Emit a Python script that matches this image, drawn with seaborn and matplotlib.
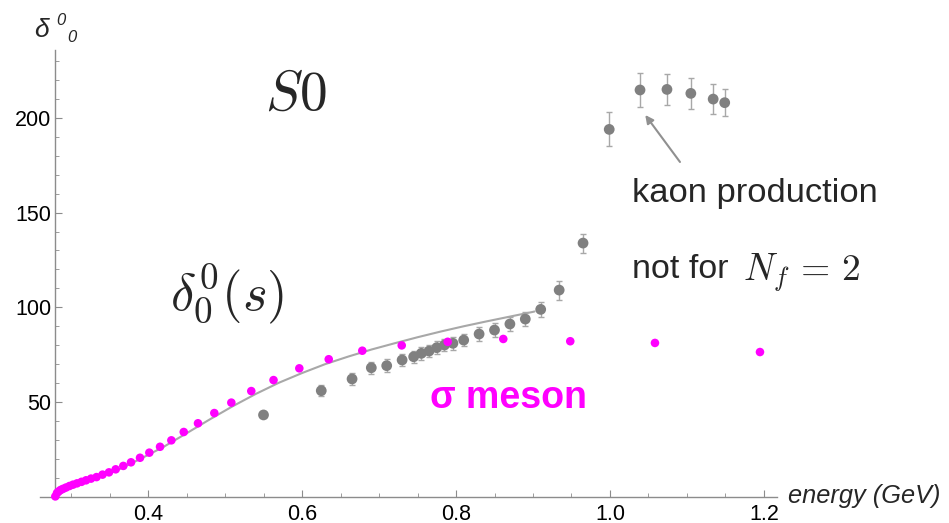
import numpy as np
import pandas as pd
import seaborn as sns
import matplotlib.pyplot as plt
from matplotlib.ticker import MultipleLocator

# Datos leidos de la figura
# puntos experimentales (gris, con barras de error)
exp_energy = [0.550, 0.625, 0.665, 0.690, 0.710, 0.730, 0.745, 0.755, 0.765, 0.775,
              0.785, 0.796, 0.810, 0.830, 0.850, 0.870, 0.890, 0.910, 0.934, 0.965,
              0.999, 1.039, 1.074, 1.105, 1.134, 1.149]
exp_delta = [43.2, 56.0, 62.2, 68.1, 69.2, 72.2, 73.9, 75.7, 76.9, 78.7,
             80.1, 81.0, 82.7, 85.9, 88.0, 91.2, 93.8, 98.9, 109.1, 133.9,
             193.9, 214.7, 215.0, 212.9, 209.9, 208.0]
exp_err = [1.0, 3.0, 3.3, 3.3, 3.3, 3.3, 3.3, 3.3, 3.3, 3.3,
           3.3, 3.3, 3.3, 3.5, 3.5, 3.5, 3.5, 4.0, 5.0, 5.0,
           9.0, 9.0, 8.0, 8.0, 8.0, 7.0]

# puntos del meson sigma (magenta)
sig_energy = [0.2796, 0.2818, 0.2838, 0.2864, 0.2896, 0.2935, 0.2980, 0.3026, 0.3078,
              0.3136, 0.3195, 0.3260, 0.3331, 0.3409, 0.3493, 0.3580, 0.3679, 0.3779,
              0.3896, 0.4017, 0.4156, 0.4303, 0.4464, 0.4649, 0.4861, 0.5082, 0.5341,
              0.5630, 0.5965, 0.6347, 0.6783, 0.7295, 0.7892, 0.8614, 0.9484, 1.0584,
              1.1948]
sig_delta = [0.2, 2.0, 2.8, 3.6, 4.2, 4.9, 5.7, 6.4, 7.1,
             7.9, 8.7, 9.6, 10.4, 11.7, 12.9, 14.5, 16.3, 18.2,
             20.6, 23.3, 26.4, 29.8, 34.2, 38.8, 44.2, 49.7, 55.8,
             61.6, 67.8, 72.6, 77.1, 79.9, 81.8, 83.3, 82.1, 81.2,
             76.4]

# curva teorica (gris claro)
fit_energy = [0.2796, 0.30, 0.33, 0.36, 0.39, 0.42, 0.45, 0.48, 0.51, 0.54, 0.57,
              0.60, 0.63, 0.66, 0.69, 0.72, 0.75, 0.78, 0.81, 0.84, 0.87, 0.90, 0.902]
fit_delta = [0.0, 5.0, 9.5, 14.0, 20.0, 26.3, 33.5, 40.8, 47.8, 54.3, 60.2,
             65.3, 70.0, 74.0, 77.7, 81.0, 84.2, 87.2, 90.0, 92.6, 95.1, 97.6, 97.8]

x_major = [0.4, 0.6, 0.8, 1.0, 1.2]
y_major = [50, 100, 150, 200]

df_exp = pd.DataFrame({'energy': exp_energy, 'delta': exp_delta, 'err': exp_err})
df_sig = pd.DataFrame({'energy': sig_energy, 'delta': sig_delta})
df_fit = pd.DataFrame({'energy': fit_energy, 'delta': fit_delta})

sns.set_style('white')
plt.rcParams['font.family'] = ['Liberation Sans', 'DejaVu Sans']
plt.rcParams['mathtext.fontset'] = 'cm'

fig = plt.figure(figsize=(9.49, 5.23), dpi=100)
ax = fig.add_axes([0.04215, 0.0501, 0.7766, 0.8543])

axis_gray = '#8c8c8c'

sns.lineplot(data=df_fit, x='energy', y='delta', ax=ax, color='#a8a8a8', lw=1.5,
             sort=False, estimator=None, zorder=2)
ax.errorbar(df_exp['energy'], df_exp['delta'], yerr=df_exp['err'], fmt='none',
            ecolor='#a8a8a8', elinewidth=1, capsize=2.5, capthick=1, zorder=3)
sns.scatterplot(data=df_exp, x='energy', y='delta', ax=ax, color='#808080', s=60,
                edgecolor='none', zorder=4)
sns.scatterplot(data=df_sig, x='energy', y='delta', ax=ax, color='#ff00ff', s=38,
                edgecolor='none', zorder=5, clip_on=False)

ax.set_xlim(0.2597, 1.2169)
ax.set_ylim(0, 235.8)
ax.set_xlabel('')
ax.set_ylabel('')

for s in ['top', 'right']:
    ax.spines[s].set_visible(False)
ax.spines['left'].set_position(('data', 0.2796))
for s in ['left', 'bottom']:
    ax.spines[s].set_color(axis_gray)
    ax.spines[s].set_linewidth(1)

ax.set_xticks(x_major)
ax.set_xticklabels([f'{v:.1f}' for v in x_major])
ax.set_yticks(y_major)
ax.xaxis.set_minor_locator(MultipleLocator(0.05))
ax.yaxis.set_minor_locator(MultipleLocator(10))
ax.tick_params(which='both', direction='in', color=axis_gray, labelsize=15.5,
               labelcolor='black')
ax.tick_params(axis='x', which='major', length=5, pad=5)
ax.tick_params(axis='y', which='major', length=5, pad=3)
ax.tick_params(which='minor', length=3)
ax.tick_params(which='both', bottom=True, left=True)

# etiquetas de los ejes
fig.text(787.7 / 949, 1 - 503 / 523, 'energy (GeV)', fontsize=18.3, style='italic',
         ha='left', va='baseline')
fig.text(34 / 949, 1 - 37 / 523, '\u03b4', fontsize=19, style='italic',
         ha='left', va='baseline')
fig.text(56 / 949, 1 - 25 / 523, '0', fontsize=12, style='italic',
         ha='left', va='baseline')
fig.text(67 / 949, 1 - 41.5 / 523, '0', fontsize=12, style='italic',
         ha='left', va='baseline')

# anotaciones
ax.text(0.552, 204.1, r'$S0$', fontsize=40, ha='left', va='baseline')
ax.text(0.4286, 107.0, r'$\delta_0^0(s)$', fontsize=38, ha='left', va='center')
ax.text(1.0287, 155.7, 'kaon production', fontsize=24.8, ha='left', va='baseline')
ax.text(1.0287, 115.3, 'not for', fontsize=24.5, ha='left', va='baseline')
ax.text(1.1725, 114.3, r'$N_f\,=\,2$', fontsize=27, ha='left', va='baseline')
ax.text(0.766, 46.9, '\u03c3 meson', fontsize=27, fontweight='bold', color='#ff00ff',
        ha='left', va='baseline')
ax.annotate('', xy=(1.0458, 201.5), xytext=(1.0909, 176.7),
            arrowprops=dict(arrowstyle='-|>', color='#909090', lw=1.5,
                            mutation_scale=12, shrinkA=0, shrinkB=0))

fig.savefig('out.png', dpi=100)
